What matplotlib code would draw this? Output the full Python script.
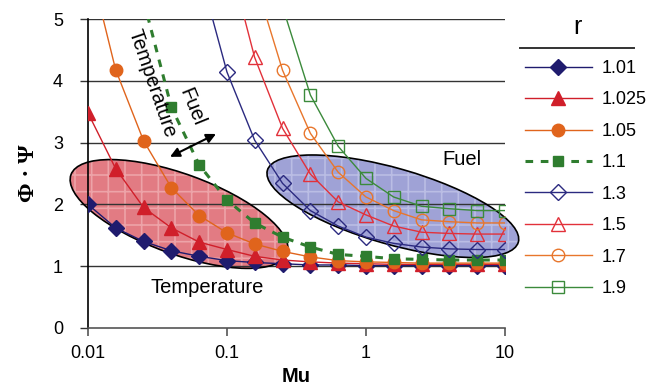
import numpy as np
import matplotlib
matplotlib.use("Agg")
import matplotlib.pyplot as plt
from matplotlib.patches import Ellipse
from matplotlib.lines import Line2D
from matplotlib.transforms import IdentityTransform

plt.rcParams['font.family'] = ['Liberation Sans', 'DejaVu Sans']
plt.rcParams['hatch.linewidth'] = 1.2

nan = np.nan
mu = [0.01, 0.0158, 0.0251, 0.0398, 0.0631, 0.1, 0.158, 0.251,
      0.398, 0.631, 1.0, 1.58, 2.51, 3.98, 6.31, 10.0]

r_labels = ['1.01', '1.025', '1.05', '1.1', '1.3', '1.5', '1.7', '1.9']
r101 = [2.00, 1.62, 1.40, 1.25, 1.16, 1.09, 1.06, 1.04, 1.02, 1.02, 1.01, 1.01, 1.01, 1.01, 1.01, 1.01]
r1025 = [3.48, 2.58, 1.95, 1.62, 1.39, 1.27, 1.16, 1.10, 1.07, 1.05, 1.04, 1.03, 1.03, 1.03, 1.03, 1.03]
r105 = [6.0, 4.18, 3.03, 2.27, 1.82, 1.54, 1.36, 1.24, 1.15, 1.09, 1.07, 1.06, 1.05, 1.05, 1.05, 1.05]
r11 = [nan, nan, 5.3, 3.57, 2.64, 2.07, 1.70, 1.47, 1.31, 1.19, 1.16, 1.12, 1.11, 1.10, 1.10, 1.10]
r13 = [nan, nan, nan, nan, 5.8, 4.14, 3.04, 2.34, 1.90, 1.65, 1.47, 1.37, 1.31, 1.28, 1.27, 1.27]
r15 = [nan, nan, nan, nan, nan, 6.1, 4.38, 3.23, 2.49, 2.04, 1.83, 1.65, 1.55, 1.53, 1.52, 1.52]
r17 = [nan, nan, nan, nan, nan, nan, 5.65, 4.17, 3.15, 2.52, 2.12, 1.90, 1.75, 1.72, 1.70, 1.70]
r19 = [nan, nan, nan, nan, nan, nan, nan, 5.2, 3.77, 2.94, 2.42, 2.12, 1.97, 1.93, 1.90, 1.90]
series = [r101, r1025, r105, r11, r13, r15, r17, r19]

navy, red, orange, green = '#1f1b6e', '#d01f2a', '#e0641c', '#2f7d2f'
styles = [
    dict(color=navy, marker='D', ms=8.5, mfc=navy, ls='-', lw=1.0),
    dict(color=red, marker='^', ms=9.5, mfc=red, ls='-', lw=1.0),
    dict(color=orange, marker='o', ms=9, mfc=orange, ls='-', lw=1.0),
    dict(color=green, marker='s', ms=7.5, mfc=green, ls=(0, (2.5, 2.5)), lw=2.2),
    dict(color='#2b2a80', marker='D', ms=8, mfc='none', ls='-', lw=1.0, mew=1.0),
    dict(color='#e2313a', marker='^', ms=9.5, mfc='none', ls='-', lw=1.0, mew=1.0),
    dict(color='#e8762c', marker='o', ms=9, mfc='none', ls='-', lw=1.0, mew=1.0),
    dict(color='#3b8a3b', marker='s', ms=8.5, mfc='none', ls='-', lw=1.0, mew=1.0),
]

fig = plt.figure(figsize=(6.65, 3.89), dpi=100)
ax = fig.add_axes([88 / 665, 61 / 389, 417 / 665, 309 / 389])
ax.set_xscale('log')
ax.set_xlim(0.01, 10)
ax.set_ylim(0, 5)

for v in range(1, 6):
    ax.axhline(v, color='#333333', lw=1.0, zorder=1.5)

for vals, lab, st in zip(series, r_labels, styles):
    ax.plot(mu, vals, label=lab, zorder=3, **st)

# shaded ellipses (drawn in pixel space around a data-space centre)
def blob(center, w, h, ang, face, hatch_col, hatch):
    cx, cy = ax.transData.transform(center)
    e1 = Ellipse((cx, cy), w, h, angle=ang, transform=IdentityTransform(),
                 facecolor=face, edgecolor=hatch_col, hatch=hatch, lw=0,
                 zorder=1, clip_on=False)
    e2 = Ellipse((cx, cy), w, h, angle=ang, transform=IdentityTransform(),
                 fill=False, edgecolor='black', lw=1.2, zorder=1.6, clip_on=False)
    ax.add_patch(e1)
    ax.add_patch(e2)

blob((0.0452, 1.845), 230, 80, -20, '#e27b83', '#eda3a8', '+')
blob((1.56, 1.97), 261, 76, -16, '#9fa2d6', '#babde4', '+')

ax.text(0.0289, 3.96, 'Temperature', rotation=-71, ha='center', va='center',
        fontsize=14.5, rotation_mode='anchor', zorder=4)
ax.text(0.056, 3.58, 'Fuel', rotation=-68, ha='center', va='center',
        fontsize=14.5, rotation_mode='anchor', zorder=4)
ax.annotate('', xy=(0.0389, 2.77), xytext=(0.0833, 3.14),
            arrowprops=dict(arrowstyle='<|-|>', color='black', lw=1.5,
                            mutation_scale=14, shrinkA=0, shrinkB=0), zorder=4)
ax.text(0.0718, 0.66, 'Temperature', ha='center', va='center', fontsize=14.5, zorder=4)
ax.text(4.9, 2.72, 'Fuel', ha='center', va='center', fontsize=14.5, zorder=4)

for s in ['top', 'right']:
    ax.spines[s].set_visible(False)
ax.spines['left'].set_color('black')
ax.spines['left'].set_linewidth(1.2)
ax.spines['bottom'].set_color('#555555')
ax.spines['bottom'].set_linewidth(1.2)

ax.set_xticks([0.01, 0.1, 1, 10])
ax.set_xticklabels(['0.01', '0.1', '1', '10'])
ax.xaxis.set_minor_locator(matplotlib.ticker.NullLocator())
ax.set_yticks(range(0, 6))
ax.tick_params(axis='x', length=6, width=1.2, color='#555555', pad=6, labelsize=13)
ax.tick_params(axis='y', length=6, width=1.0, color='#333333', pad=12, labelsize=13)

ax.set_xlabel('Mu', fontsize=14.5, fontweight='bold', labelpad=4)
ax.set_ylabel('Φ · Ψ', fontsize=17, fontweight='bold', family=['Liberation Serif', 'DejaVu Serif'],
              labelpad=10)

leg = ax.legend(loc='upper left', bbox_to_anchor=(525 / 665, 1 - 60 / 389),
                bbox_transform=fig.transFigure, frameon=False, fontsize=13,
                numpoints=1, handlelength=3.7, handletextpad=0.55,
                labelspacing=0.8, borderpad=0, borderaxespad=0)
fig.text(577 / 665, 1 - 27 / 389, 'r', fontsize=18, ha='center', va='center')
fig.add_artist(Line2D([520 / 665, 634 / 665], [1 - 48 / 389, 1 - 48 / 389],
                      color='#333333', lw=1.4))

fig.savefig('out.png', dpi=100)
